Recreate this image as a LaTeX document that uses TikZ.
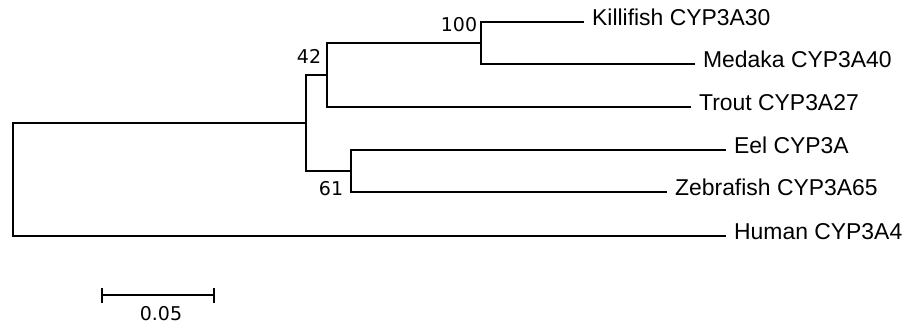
\documentclass[tikz,border=0pt]{standalone}
\usepackage{fontspec}
\setmainfont{Liberation Sans}
\newfontfamily\bootfont{DejaVu Sans}
\begin{document}
\begin{tikzpicture}[x=0.025cm,y=-0.025cm,line width=1.3pt,
  leaf/.style={anchor=mid west,inner xsep=0.18cm,inner ysep=0pt,
    font=\fontsize{16.3}{18}\selectfont},
  boot/.style={anchor=base east,inner sep=0pt,
    font=\bootfont\fontsize{13.5}{15}\selectfont}]
   \useasboundingbox (0,0) rectangle (905,324);

   % inner nodes of the tree
   \coordinate (root) at (13,179.5);
   \coordinate (fish) at (306,123);
   \coordinate (n42) at (327,75);
   \coordinate (n100) at (481,43);
   \coordinate (n61) at (351,171);

   % leaves
   \node[leaf] (kill) at (584,22) {Killifish CYP3A30};
   \node[leaf] (med) at (695,64) {Medaka CYP3A40};
   \node[leaf] (trout) at (691,107) {Trout CYP3A27};
   \node[leaf] (eel) at (726,150) {Eel CYP3A};
   \node[leaf] (zebra) at (667,192) {Zebrafish CYP3A65};
   \node[leaf] (human) at (726,236) {Human CYP3A4};

   % branches
   \draw (root) |- (fish);
   \draw (root) |- (human.mid west);
   \draw (fish) |- (n42);
   \draw (fish) |- (n61);
   \draw (n42) |- (n100);
   \draw (n42) |- (trout.mid west);
   \draw (n100) |- (kill.mid west);
   \draw (n100) |- (med.mid west);
   \draw (n61) |- (eel.mid west);
   \draw (n61) |- (zebra.mid west);

   % bootstrap values
   \node[boot] (b100) at (478,31.5) {100};
   \node[boot] (b42) at (322,63) {42};
   \node[boot] (b61) at (344,195) {61};

   % scale bar
   \coordinate (sbl) at (102,295);
   \coordinate (sbr) at (214,295);
   \draw (sbl) -- (sbr);
   \draw (sbl) ++(0,-7) -- ++(0,15);
   \draw (sbr) ++(0,-7) -- ++(0,15);
   \node[boot,anchor=base] (sblab) at (161,320) {0.05};
\end{tikzpicture}
\end{document}
